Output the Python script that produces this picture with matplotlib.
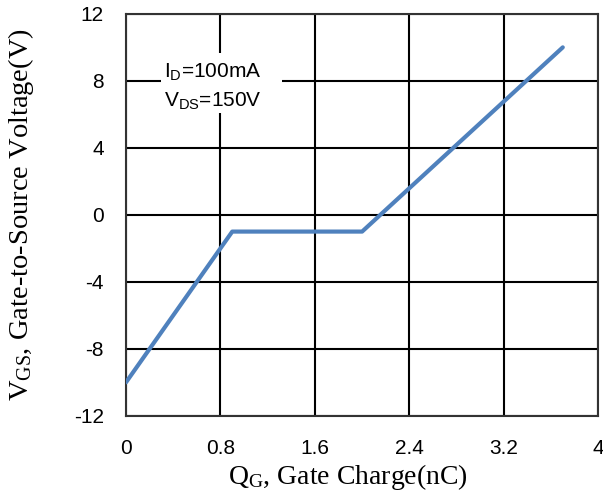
import matplotlib
matplotlib.use('Agg')
import matplotlib.pyplot as plt
from matplotlib.patches import Rectangle

# gate charge curve
qg = [0.0, 0.9, 2.0, 3.7]
vgs = [-10.0, -1.0, -1.0, 10.0]

x_ticks = [0, 0.8, 1.6, 2.4, 3.2, 4]
x_labels = ['0', '0.8', '1.6', '2.4', '3.2', '4']
y_ticks = [-12, -8, -4, 0, 4, 8, 12]
y_labels = ['-12', '-8', '-4', '0', '4', '8', '12']

fig = plt.figure(figsize=(6.03, 4.95), dpi=100)
ax = fig.add_axes([0.209, 0.160, 0.783, 0.812])

ax.plot(qg, vgs, color='#4F81BD', linewidth=3.0, solid_capstyle='round', zorder=3)

ax.set_xlim(0, 4)
ax.set_ylim(-12, 12)
ax.set_xticks(x_ticks)
ax.set_xticklabels(x_labels)
ax.set_yticks(y_ticks)
ax.set_yticklabels(y_labels)
ax.grid(True, color='black', linewidth=1.5)
ax.set_axisbelow(True)
for s in ax.spines.values():
    s.set_color('#333333')
    s.set_linewidth(1.5)
ax.tick_params(length=0, labelsize=15)
ax.tick_params(axis='y', pad=16)
ax.tick_params(axis='x', pad=17)
for lab in ax.get_xticklabels() + ax.get_yticklabels():
    lab.set_fontfamily('Liberation Sans')

ax.set_xlabel(r'$\mathregular{Q_G}$, Gate Charge(nC)', fontsize=20,
              fontfamily='Liberation Serif')
ax.set_ylabel(r'$\mathregular{V_{GS}}$, Gate-to-Source Voltage(V)', fontsize=20.5,
              fontfamily='Liberation Serif')
ax.xaxis.set_label_coords(0.47, -0.115)
ax.yaxis.set_label_coords(-0.19, 0.5)

# white box behind the conditions text
ax.add_patch(Rectangle((0.3, 6.1), 1.02, 3.57, facecolor='white', edgecolor='none', zorder=2))
ax.text(0.32, 7.65, '$\\mathregular{I_D}$=100mA\n$\\mathregular{V_{DS}}$=150V',
        fontsize=15, fontfamily='Liberation Sans', ha='left', va='center',
        linespacing=1.45, zorder=4)

fig.savefig('out.png', dpi=100)
